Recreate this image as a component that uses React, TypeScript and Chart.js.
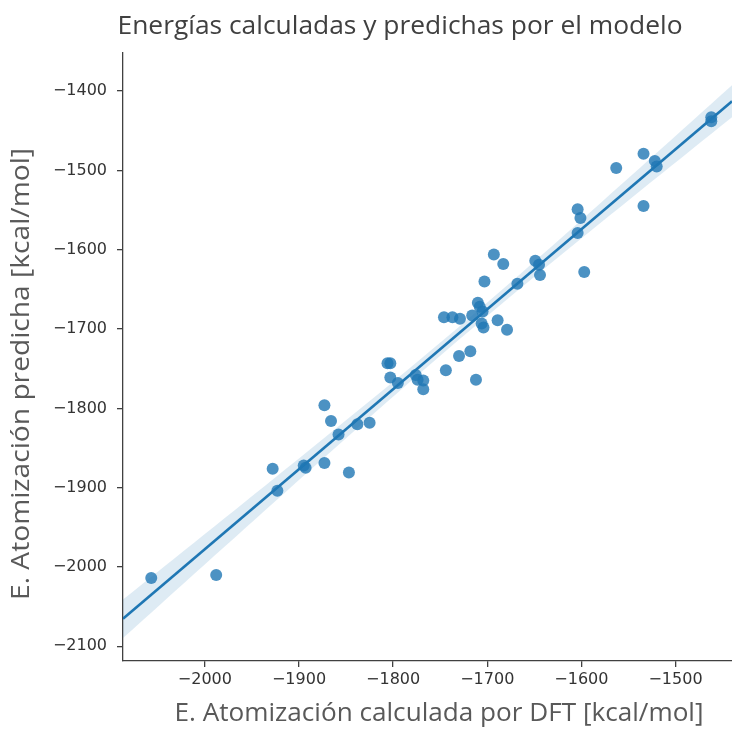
import React, { useEffect, useRef } from "react";
import { Chart, registerables } from "chart.js";

Chart.register(...registerables);

const TITLE = "Energías calculadas y predichas por el modelo";
const X_LABEL = "E. Atomización calculada por DFT [kcal/mol]";
const Y_LABEL = "E. Atomización predicha [kcal/mol]";

const X_TICKS = [-2000, -1900, -1800, -1700, -1600, -1500];
const Y_TICKS = [-2100, -2000, -1900, -1800, -1700, -1600, -1500, -1400];

const X_MIN = -2087;
const X_MAX = -1440;
const Y_MIN = -2118.5;
const Y_MAX = -1352;

const DFT_ENERGY = [
  -1462, -1462, -1534, -1563, -1522, -1520, -1534, -1604, -1601, -1604,
  -1597, -1693, -1683, -1649, -1645, -1644, -1668, -1703, -1710, -1708,
  -1705, -1716, -1746, -1737, -1729, -1706, -1704, -1689, -1679, -1730,
  -1718, -1744, -1712, -1768, -1768, -1806, -1803, -1803, -1795, -1776,
  -1774, -1873, -1866, -1858, -1838, -1825, -1928, -1895, -1893, -1873,
  -1847, -1923, -2057, -1988,
];

const PREDICTED_ENERGY = [
  -1433, -1438, -1479, -1497, -1488, -1495, -1545, -1549, -1560, -1579,
  -1628, -1606, -1618, -1614, -1619, -1632, -1643, -1640, -1667, -1672,
  -1678, -1683, -1685, -1685, -1687, -1693, -1698, -1689, -1701, -1734,
  -1728, -1752, -1764, -1765, -1776, -1743, -1743, -1761, -1768, -1758,
  -1764, -1796, -1816, -1833, -1820, -1818, -1876, -1872, -1875, -1869,
  -1881, -1904, -2014, -2010,
];

function fitRegression(xs: number[], ys: number[]) {
  const n = xs.length;
  const mx = xs.reduce((a, b) => a + b, 0) / n;
  const my = ys.reduce((a, b) => a + b, 0) / n;
  let sxx = 0;
  let sxy = 0;
  for (let i = 0; i < n; i++) {
    sxx += (xs[i] - mx) * (xs[i] - mx);
    sxy += (xs[i] - mx) * (ys[i] - my);
  }
  const slope = sxy / sxx;
  const intercept = my - slope * mx;
  let sse = 0;
  for (let i = 0; i < n; i++) {
    const r = ys[i] - (intercept + slope * xs[i]);
    sse += r * r;
  }
  const s = Math.sqrt(sse / (n - 2));
  return { n, mx, sxx, slope, intercept, s };
}

function fmt(v: number | string) {
  return String(v).replace("-", "\u2212");
}

function drawFitted(
  ctx: CanvasRenderingContext2D,
  text: string,
  cx: number,
  cy: number,
  rot: number,
  width: number,
  size: number,
  color: string
) {
  ctx.save();
  ctx.translate(cx, cy);
  ctx.rotate(rot);
  ctx.font = `${size}px "Open Sans"`;
  const w = ctx.measureText(text).width;
  ctx.scale(width / w, 1);
  ctx.textAlign = "center";
  ctx.textBaseline = "middle";
  ctx.fillStyle = color;
  ctx.fillText(text, 0, 0);
  ctx.restore();
}

const textPlugin = {
  id: "textTitles",
  afterDraw(chart: any) {
    const ctx = chart.ctx as CanvasRenderingContext2D;
    drawFitted(ctx, TITLE, 400, 27, 0, 565, 26, "#404040");
    drawFitted(ctx, X_LABEL, 439, 714, 0, 529, 25, "#595959");
    drawFitted(ctx, Y_LABEL, 22, 374, -Math.PI / 2, 452, 25, "#595959");
  },
};

export default function App() {
  const canvasRef = useRef<HTMLCanvasElement | null>(null);

  useEffect(() => {
    const canvas = canvasRef.current;
    if (!canvas) return;

    const fit = fitRegression(DFT_ENERGY, PREDICTED_ENERGY);
    const t = 2.007;
    const steps = 60;
    const upper: { x: number; y: number }[] = [];
    const lower: { x: number; y: number }[] = [];
    for (let i = 0; i <= steps; i++) {
      const x = X_MIN + ((X_MAX - X_MIN) * i) / steps;
      const yhat = fit.intercept + fit.slope * x;
      const se = fit.s * Math.sqrt(1 / fit.n + ((x - fit.mx) * (x - fit.mx)) / fit.sxx);
      upper.push({ x, y: yhat + t * se });
      lower.push({ x, y: yhat - t * se });
    }

    const points = DFT_ENERGY.map((x, i) => ({ x, y: PREDICTED_ENERGY[i] }));
    const axisColor = "#404040";

    const chart = new Chart(canvas, {
      type: "scatter",
      data: {
        datasets: [
          {
            type: "line",
            label: "Ajuste",
            data: [
              { x: X_MIN, y: fit.intercept + fit.slope * X_MIN },
              { x: X_MAX, y: fit.intercept + fit.slope * X_MAX },
            ],
            borderColor: "#1f77b4",
            borderWidth: 2.6,
            pointRadius: 0,
            fill: false,
            order: 0,
          } as any,
          {
            type: "scatter",
            label: "Moléculas",
            data: points,
            backgroundColor: "rgba(31,119,180,0.8)",
            borderWidth: 0,
            pointRadius: 6,
            pointHoverRadius: 6,
            order: 1,
          } as any,
          {
            type: "line",
            label: "IC superior",
            data: upper,
            borderWidth: 0,
            borderColor: "rgba(0,0,0,0)",
            pointRadius: 0,
            fill: "+1",
            backgroundColor: "rgba(31,119,180,0.15)",
            order: 2,
          } as any,
          {
            type: "line",
            label: "IC inferior",
            data: lower,
            borderWidth: 0,
            borderColor: "rgba(0,0,0,0)",
            pointRadius: 0,
            fill: false,
            order: 3,
          } as any,
        ],
      },
      options: {
        animation: false,
        responsive: false,
        maintainAspectRatio: false,
        layout: { autoPadding: false, padding: { top: 53, left: 0, right: 0, bottom: 0 } },
        plugins: {
          legend: { display: false },
          tooltip: { enabled: false },
          title: { display: false },
        },
        scales: {
          x: {
            type: "linear",
            min: X_MIN,
            max: X_MAX,
            afterBuildTicks: (s: any) => {
              s.ticks = X_TICKS.map((v) => ({ value: v }));
            },
            afterFit: (s: any) => {
              s.height = 69;
              s.paddingLeft = 0;
              s.paddingRight = 0;
            },
            ticks: {
              callback: (v: any) => fmt(v),
              font: { family: "DejaVu Sans", size: 16 },
              color: "#333333",
              padding: 3,
              maxRotation: 0,
              autoSkip: false,
            },
            grid: {
              drawOnChartArea: false,
              drawTicks: true,
              tickLength: 6,
              color: axisColor,
              lineWidth: 1.3,
            },
            border: { display: true, color: axisColor, width: 1.3 },
          },
          y: {
            type: "linear",
            min: Y_MIN,
            max: Y_MAX,
            afterBuildTicks: (s: any) => {
              s.ticks = Y_TICKS.map((v) => ({ value: v }));
            },
            afterFit: (s: any) => {
              s.width = 123;
              s.paddingTop = 0;
              s.paddingBottom = 0;
            },
            ticks: {
              callback: (v: any) => fmt(v),
              font: { family: "DejaVu Sans", size: 16 },
              color: "#333333",
              padding: 10,
              autoSkip: false,
            },
            grid: {
              drawOnChartArea: false,
              drawTicks: true,
              tickLength: 6,
              color: axisColor,
              lineWidth: 1.3,
            },
            border: { display: true, color: axisColor, width: 1.3 },
          },
        },
      },
      plugins: [textPlugin],
    });

    return () => {
      chart.destroy();
    };
  }, []);

  return (
    <div style={{ position: "absolute", left: 0, top: 0, width: 732, height: 730, background: "#ffffff" }}>
      <canvas ref={canvasRef} width={732} height={730} style={{ display: "block" }} />
    </div>
  );
}
